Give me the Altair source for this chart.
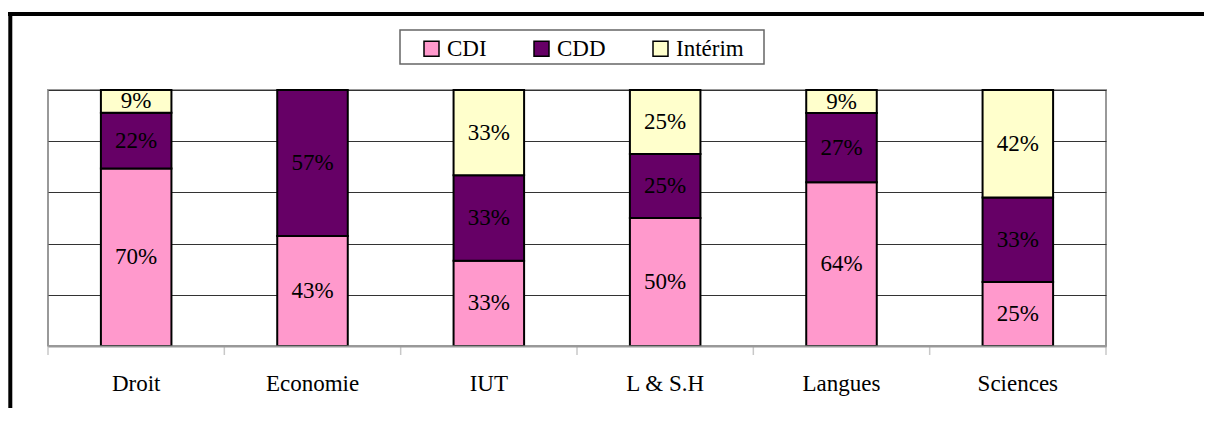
import altair as alt
import pandas as pd

categories = ["Droit", "Economie", "IUT", "L & S.H", "Langues", "Sciences"]
series = ["CDI", "CDD", "Intérim"]
cdi = [70, 43, 33, 50, 64, 25]
cdd = [22, 57, 33, 25, 27, 33]
interim = [9, 0, 33, 25, 9, 42]
colors = ["#FF99CC", "#660066", "#FFFFCC"]
boundaries = [0, 1, 2, 3, 4, 5, 6]

rows = []
for i, c in enumerate(categories):
    for k, (s, vals) in enumerate(zip(series, [cdi, cdd, interim])):
        rows.append({"cat": c, "serie": s, "value": vals[i], "ord": k})
df = pd.DataFrame(rows)

FONT = "Liberation Serif"
W, H = 1058, 256

xscale = alt.Scale(paddingInner=0.6, paddingOuter=0.3)
xenc = alt.X("cat:N", sort=categories, scale=xscale,
             axis=alt.Axis(title=None, labelAngle=0, ticks=False, labelPadding=44,
                           labelBaseline="alphabetic", labelFont=FONT, labelFontSize=23,
                           labelColor="black", domainColor="#999999", domainWidth=2,
                           zindex=1))

base = alt.Chart(df)

bars = base.mark_bar(stroke="black", strokeWidth=2).encode(
    x=xenc,
    y=alt.Y("value:Q", stack="normalize",
            scale=alt.Scale(domain=[0, 1]),
            axis=alt.Axis(title=None, labels=False, ticks=False, domain=False,
                          grid=True, gridColor="#333333", gridWidth=1,
                          values=[0, 0.2, 0.4, 0.6, 0.8, 1.0], zindex=0)),
    color=alt.Color("serie:N", sort=series,
                    scale=alt.Scale(domain=series, range=colors),
                    legend=alt.Legend(title=None, orient="none", legendX=372, legendY=-53,
                                      direction="horizontal", symbolType="square",
                                      symbolSize=225, symbolStrokeColor="black",
                                      symbolStrokeWidth=1.5, labelFont=FONT,
                                      labelFontSize=23, labelColor="black",
                                      labelOffset=4, columnPadding=43, padding=0)),
    order=alt.Order("ord:Q"),
)

labels = base.transform_filter("datum.value > 0").transform_stack(
    stack="value", groupby=["cat"], as_=["v0", "v1"], offset="normalize",
    sort=[alt.SortField("ord", order="ascending")]
).transform_calculate(
    mid="(datum.v0 + datum.v1) / 2", txt="datum.value + '%'"
).mark_text(font=FONT, fontSize=23, color="black", baseline="middle").encode(
    x=alt.X("cat:N", sort=categories, scale=xscale, axis=None),
    y=alt.Y("mid:Q"),
    text="txt:N",
)

ticks = alt.Chart(pd.DataFrame({"b": boundaries})).mark_rule(
    color="#c8c8c8", strokeWidth=1.5).encode(
    x=alt.X("b:Q", scale=alt.Scale(domain=[0, 6], nice=False, zero=False), axis=None),
    y=alt.value(H),
    y2=alt.value(H + 9),
)

legend_box = alt.Chart(pd.DataFrame({"a": [0]})).mark_rect(
    fill="white", stroke="#666666", strokeWidth=1.5).encode(
    x=alt.value(352), x2=alt.value(716), y=alt.value(-60), y2=alt.value(-26))

border_top = alt.Chart(pd.DataFrame({"a": [0]})).mark_rule(
    color="black", strokeWidth=4).encode(
    x=alt.value(-40), x2=alt.value(1160), y=alt.value(-76))
border_left = alt.Chart(pd.DataFrame({"a": [0]})).mark_rule(
    color="black", strokeWidth=4).encode(
    x=alt.value(-37.7), y=alt.value(-78), y2=alt.value(330))

chart = alt.layer(legend_box, border_top, border_left, bars, labels, ticks).resolve_scale(
    x="independent"
).properties(
    width=W, height=H,
    autosize=alt.AutoSizeParams(type="none"),
    padding={"left": 40, "top": 82, "right": 98, "bottom": 62},
).configure(
    background="white", font=FONT
).configure_view(
    stroke="#999999", strokeWidth=2
).configure_text(font=FONT).configure_legend(labelFont=FONT)

chart.save("out.html", embed_options={"renderer": "svg", "actions": False})
